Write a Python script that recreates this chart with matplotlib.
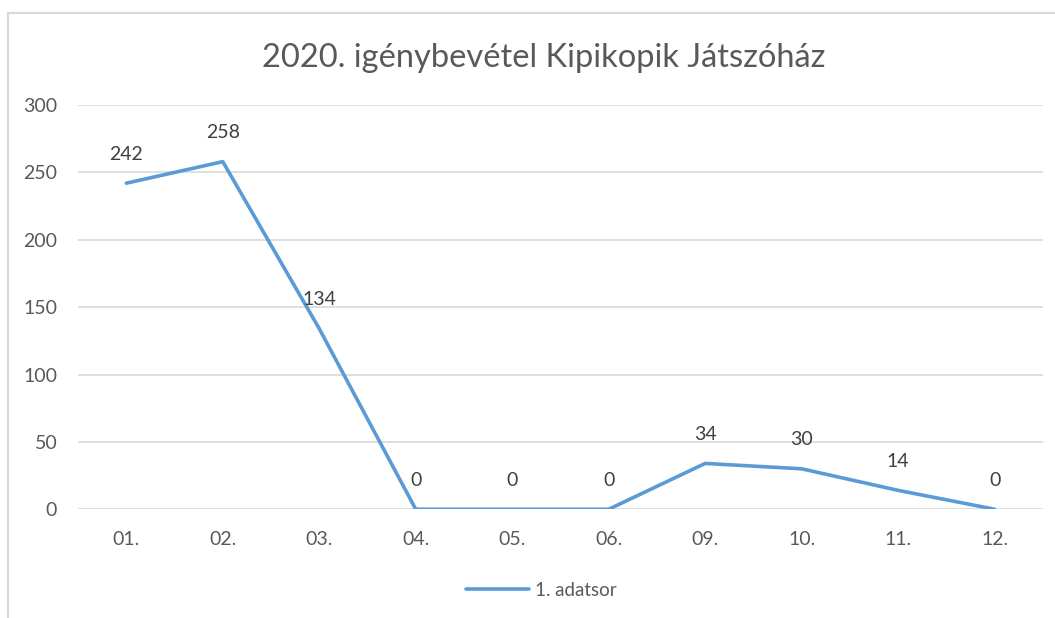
import matplotlib
matplotlib.use('Agg')
import matplotlib.pyplot as plt
from matplotlib.lines import Line2D

plt.rcParams['font.family'] = ['Lato', 'DejaVu Sans']

months = ['01.', '02.', '03.', '04.', '05.', '06.', '09.', '10.', '11.', '12.']
values = [242, 258, 134, 0, 0, 0, 34, 30, 14, 0]
series_name = '1. adatsor'
title = '2020. igénybevétel Kipikopik Játszóház'

TEXT = '#595959'
GRID = '#d9d9d9'
LINE = '#5b9bd5'

fig = plt.figure(figsize=(10.55, 6.18), dpi=100, facecolor='white')
ax = fig.add_axes([0.074, 0.176, 0.9145, 0.654])

x = range(len(months))
ax.plot(x, values, color=LINE, linewidth=2.6, solid_capstyle='round', zorder=3)
for xi, v in zip(x, values):
    ax.annotate(str(v), (xi, v), xytext=(0, 21), textcoords='offset points',
                ha='center', va='center', fontsize=14, color='#404040')

ax.set_xlim(-0.5, len(months) - 0.5)
ax.set_ylim(0, 300)
ax.set_yticks(range(0, 301, 50))
ax.set_xticks(list(x))
ax.set_xticklabels(months)
ax.grid(axis='y', color=GRID, linewidth=1.2)
ax.set_axisbelow(True)
ax.tick_params(axis='both', length=0, labelsize=14, colors=TEXT)
ax.tick_params(axis='x', pad=16)
ax.tick_params(axis='y', pad=15)
for sp in ax.spines.values():
    sp.set_visible(False)

fig.text(0.515, 0.906, title, ha='center', va='center', fontsize=23.5, color=TEXT)

handle = Line2D([], [], color=LINE, linewidth=2.6, solid_capstyle='round')
fig.legend([handle], [series_name], loc='center', bbox_to_anchor=(0.513, 0.045),
           frameon=False, fontsize=13.5, labelcolor=TEXT, handlelength=3.4,
           handletextpad=0.3)

# chart area frame (left and top edges visible)
fig.add_artist(Line2D([0.0076, 0.0076], [0.0, 0.979], transform=fig.transFigure,
                      color=GRID, linewidth=1.5))
fig.add_artist(Line2D([0.0076, 1.0], [0.979, 0.979], transform=fig.transFigure,
                      color=GRID, linewidth=1.5))

fig.savefig('out.png', dpi=100, facecolor='white')
